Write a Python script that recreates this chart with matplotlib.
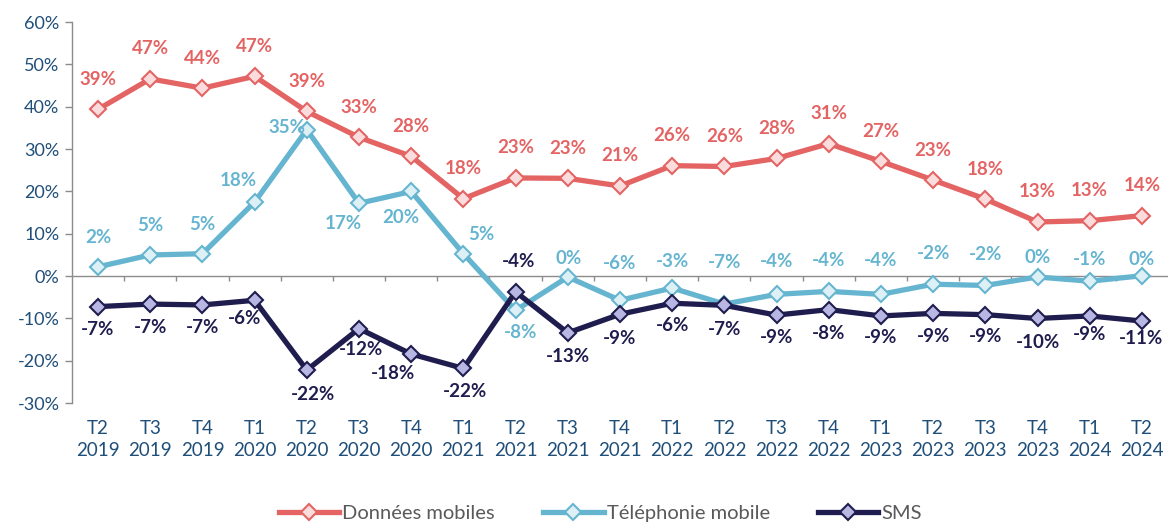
import matplotlib
matplotlib.use("Agg")
import matplotlib.pyplot as plt
import numpy as np

categories = ["T2\n2019", "T3\n2019", "T4\n2019", "T1\n2020", "T2\n2020", "T3\n2020", "T4\n2020",
              "T1\n2021", "T2\n2021", "T3\n2021", "T4\n2021", "T1\n2022", "T2\n2022", "T3\n2022",
              "T4\n2022", "T1\n2023", "T2\n2023", "T3\n2023", "T4\n2023", "T1\n2024", "T2\n2024"]

donnees = [39.4, 46.6, 44.4, 47.2, 38.9, 32.8, 28.3, 18.3, 23.2, 23.1, 21.3, 26.1, 25.9, 27.8,
           31.3, 27.1, 22.7, 18.2, 12.8, 13.1, 14.3]
telephonie = [2.2, 5.0, 5.3, 17.5, 34.6, 17.2, 20.0, 5.3, -8.1, -0.2, -5.7, -2.8, -6.6, -4.3,
              -3.6, -4.3, -1.9, -2.2, -0.2, -1.2, 0.1]
sms = [-7.2, -6.6, -6.8, -5.7, -22.2, -12.4, -18.4, -21.8, -3.7, -13.4, -9.0, -6.4, -6.9, -9.2,
       -7.9, -9.4, -8.8, -9.1, -10.0, -9.4, -10.6]

# label offsets (pixels) per point
off_don = [(0, 30)] * 21
off_tel = [(0, 29), (0, 29), (0, 29), (-16, 22), (-20, 2), (-16, -20), (-10, -26), (18, 19),
           (5, -22), (1, 18), (0, 37), (0, 27), (0, 42), (0, 33), (0, 31), (0, 34), (0, 31),
           (0, 31), (0, 19), (0, 22), (0, 16)]
off_sms = [(0, -23), (0, -23), (0, -23), (-10, -18), (6, -24), (2, -21), (-18, -19), (2, -23),
           (3, 30), (0, -24), (0, -24), (0, -22), (0, -24), (0, -22), (0, -24), (0, -22),
           (0, -23), (0, -22), (0, -24), (0, -19), (-1, -17)]

RED = "#E46464"
RED_F = "#FBDCDC"
BLUE = "#66B5D0"
BLUE_F = "#DDF0F6"
NAVY = "#1F1C4E"
NAVY_F = "#B8B6E2"
TICK = "#1F4E79"

plt.rcParams['font.family'] = ['Lato', 'DejaVu Sans']

fig = plt.figure(figsize=(11.68, 5.27), dpi=100)
ax = fig.add_axes([0.0616, 0.235, 0.9384, 0.723])

x = np.arange(len(categories))
series = [
    ("Données mobiles", donnees, RED, RED_F, off_don, RED),
    ("Téléphonie mobile", telephonie, BLUE, BLUE_F, off_tel, BLUE),
    ("SMS", sms, NAVY, NAVY_F, off_sms, NAVY),
]

# zero line + category boundary ticks
ax.axhline(0, color="#8c8c8c", lw=1.0, zorder=1)
ax.vlines(x[:-1] + 0.5, -1.2, 0, color="#8c8c8c", lw=1.0, zorder=1)

for name, vals, col, fcol, offs, tcol in series:
    ax.plot(x, vals, color=col, lw=3.8, marker="D", markersize=8.5,
            markerfacecolor=fcol, markeredgecolor=col, markeredgewidth=1.5,
            label=name, zorder=3, solid_joinstyle="miter")
    for xi, v, (dx, dy) in zip(x, vals, offs):
        ax.annotate(f"{int(round(v))}%", (xi, v), xytext=(dx, dy), textcoords="offset pixels",
                    ha="center", va="center", fontsize=13.5, fontweight="bold", color=tcol,
                    zorder=4)

ax.set_xlim(-0.5, 20.5)
ax.set_ylim(-30, 60)
ax.set_yticks(np.arange(-30, 61, 10))
ax.set_yticklabels([f"{v}%" for v in range(-30, 61, 10)])
ax.set_xticks(x)
ax.set_xticklabels(categories)

for s in ["top", "right", "bottom"]:
    ax.spines[s].set_visible(False)
ax.spines["left"].set_color("#8c8c8c")
ax.spines["left"].set_linewidth(1.0)
ax.tick_params(axis="y", colors="#8c8c8c", labelcolor=TICK, labelsize=13, length=5, width=1.0, pad=4)
ax.tick_params(axis="x", length=0, labelcolor=TICK, labelsize=13.5, pad=12)
for lbl in ax.get_xticklabels():
    lbl.set_linespacing(1.35)

leg = fig.legend(loc="lower center", bbox_to_anchor=(0.514, -0.025), ncol=3, frameon=False,
                 fontsize=14.5, handlelength=3.0, columnspacing=2.4, handletextpad=0.15)
for t in leg.get_texts():
    t.set_color("#595959")

fig.savefig("out.png", dpi=100)
